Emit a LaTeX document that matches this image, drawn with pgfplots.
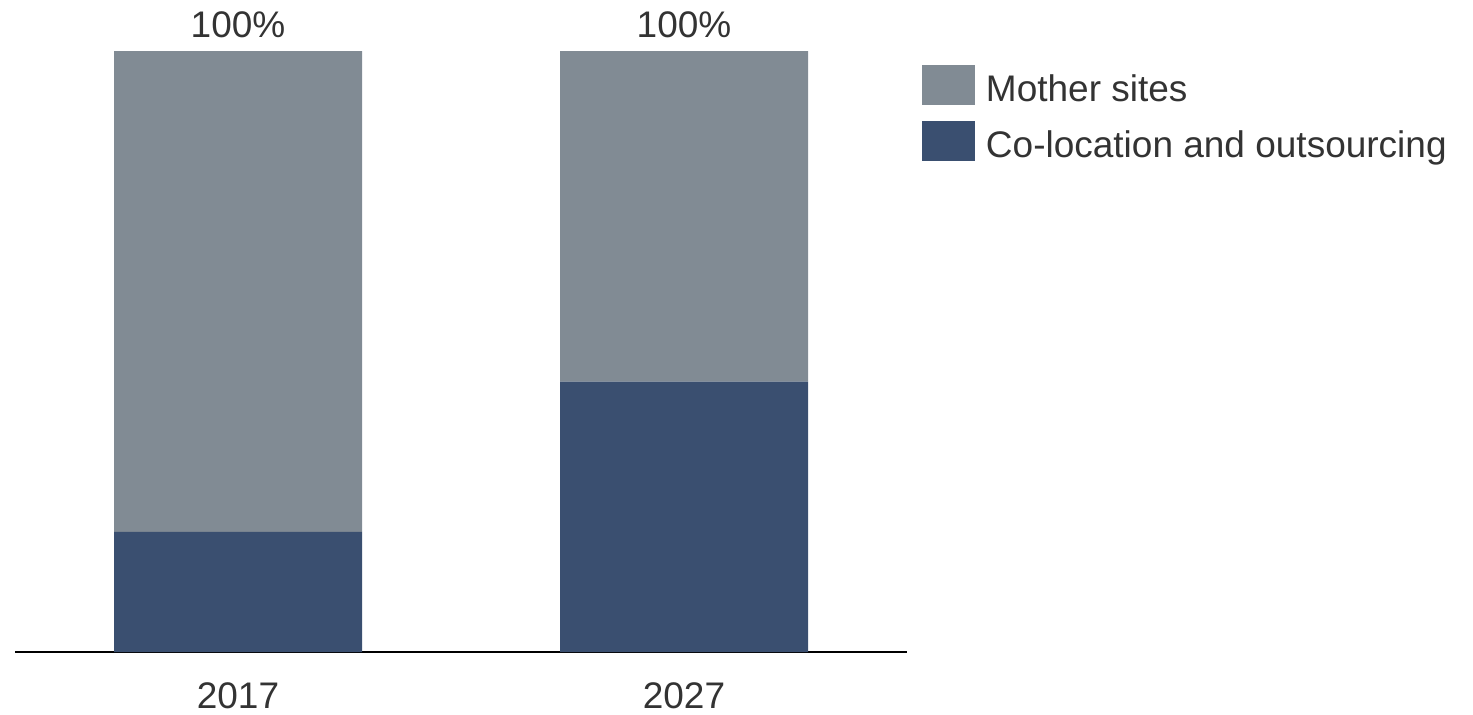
\documentclass[border=0pt]{standalone}
\usepackage{fontspec}
\setmainfont{Liberation Sans}
\usepackage{pgfplots}
\pgfplotsset{compat=1.18}
\definecolor{grayM}{HTML}{818B94}
\definecolor{darkC}{HTML}{3A4F70}
\definecolor{txt}{HTML}{333333}
\begin{document}
\begin{tikzpicture}[font=\fontsize{18.5pt}{22pt}\selectfont]
\path[use as bounding box] (0,0) rectangle (736.5pt,357pt);
\begin{axis}[
  at={(7.5pt,31pt)}, anchor=south west,
  scale only axis, width=446pt, height=300.5pt,
  xmin=-0.5, xmax=1.5, ymin=0, ymax=100,
  ybar stacked, bar width=124pt,
  axis x line=bottom, axis y line=none,
  x axis line style={-, black, line width=0.6pt},
  xtick={0,1}, xticklabels={2017,2027},
  major tick length=0pt,
  xticklabel style={text=txt, inner sep=0pt, text height=13.25pt, text depth=0pt, yshift=-15pt},
  clip=false,
  legend style={draw=none, fill=none, at={(1.0168,0.9767)}, anchor=north west,
    inner sep=0pt, outer sep=0pt, row sep=5.5pt, column sep=5.5pt, text=txt,
    nodes={inner sep=0pt, text height=13.5pt, text depth=4pt}},
  legend cell align=left,
  legend image code/.code={\fill[#1] (0pt,-6.5pt) rectangle (26.5pt,13.5pt);},
  reverse legend,
]
\addplot[fill=darkC, draw=none] coordinates {(0,20) (1,45)};
\addplot[fill=grayM, draw=none] coordinates {(0,80) (1,55)};
\legend{Co-location and outsourcing, Mother sites}
\node[anchor=south, inner sep=0pt, text=txt, yshift=6.5pt] at (axis cs:0,100) {100\%};
\node[anchor=south, inner sep=0pt, text=txt, yshift=6.5pt] at (axis cs:1,100) {100\%};
\end{axis}
\end{tikzpicture}
\end{document}
